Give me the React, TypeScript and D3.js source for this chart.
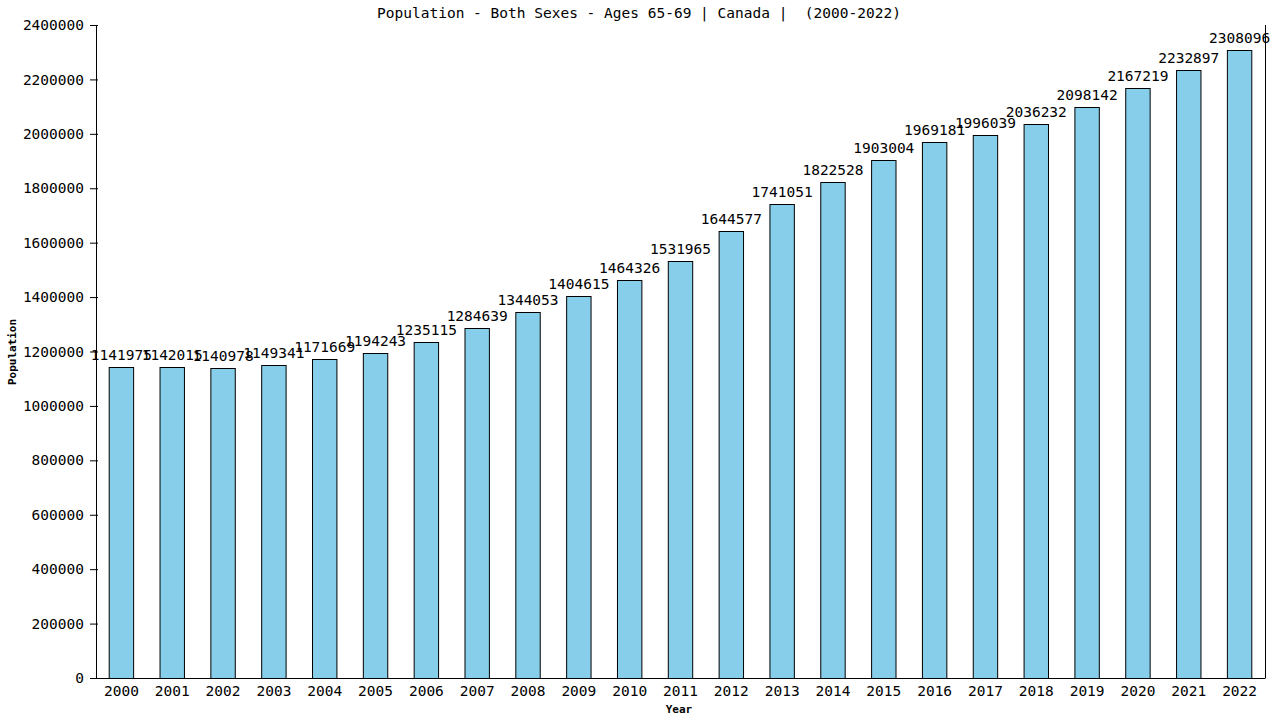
import * as d3 from 'd3';
import { useEffect, useRef } from 'react';

const years = [
  '2000', '2001', '2002', '2003', '2004', '2005', '2006', '2007', '2008', '2009', '2010', '2011',
  '2012', '2013', '2014', '2015', '2016', '2017', '2018', '2019', '2020', '2021', '2022',
];
const population = [
  1141975, 1142015, 1140978, 1149341, 1171669, 1194243, 1235115, 1284639, 1344053, 1404615,
  1464326, 1531965, 1644577, 1741051, 1822528, 1903004, 1969181, 1996039, 2036232, 2098142,
  2167219, 2232897, 2308096,
];
const yTicks = [0, 200000, 400000, 600000, 800000, 1000000, 1200000, 1400000, 1600000, 1800000, 2000000, 2200000, 2400000];

const WIDTH = 1280;
const HEIGHT = 720;
const FONT = '"DejaVu Sans Mono", monospace';

export default function App() {
  const svgRef = useRef<SVGSVGElement>(null);

  useEffect(() => {
    if (!svgRef.current) return;
    const svg = d3.select(svgRef.current);
    svg.selectAll('*').remove();

    const margin = { top: 25, right: 15, bottom: 42, left: 96 };
    const innerWidth = WIDTH - margin.left - margin.right;
    const innerHeight = HEIGHT - margin.top - margin.bottom;

    svg.append('rect').attr('width', WIDTH).attr('height', HEIGHT).attr('fill', '#fff');

    const g = svg.append('g').attr('transform', `translate(${margin.left},${margin.top})`);

    const x = d3.scaleBand().domain(years).range([0, innerWidth]).paddingInner(0.5).paddingOuter(0.25);
    const y = d3.scaleLinear().domain([0, 2400000]).range([innerHeight, 0]);

    const data = years.map((yr, i) => ({ year: yr, value: population[i] }));

    g.selectAll('.bar')
      .data(data)
      .join('rect')
      .attr('class', 'bar')
      .attr('x', d => (x(d.year) ?? 0) + 0.5)
      .attr('y', d => Math.round(y(d.value)) + 0.5)
      .attr('width', x.bandwidth() - 1)
      .attr('height', d => innerHeight - Math.round(y(d.value)))
      .attr('fill', '#87ceeb')
      .attr('stroke', '#000')
      .attr('stroke-width', 1);

    g.selectAll('.label')
      .data(data)
      .join('text')
      .attr('class', 'label')
      .attr('x', d => (x(d.year) ?? 0) + x.bandwidth() / 2)
      .attr('y', d => y(d.value) - 7)
      .attr('text-anchor', 'middle')
      .style('font-family', FONT)
      .style('font-size', '14.5px')
      .style('fill', '#000')
      .text(d => String(d.value));

    // x axis
    const xAxis = g.append('g')
      .attr('transform', `translate(0,${innerHeight})`)
      .call(d3.axisBottom(x).tickSize(0).tickPadding(8));
    xAxis.select('.domain').attr('stroke', '#000').attr('d', `M0.5,0.5H${innerWidth + 0.5}`);
    xAxis.selectAll('text').style('font-family', FONT).style('font-size', '14.5px').style('fill', '#000');

    // y axis
    const yAxis = g.append('g')
      .call(d3.axisLeft(y).tickValues(yTicks).tickSize(6).tickPadding(6).tickFormat(d3.format('d')));
    yAxis.select('.domain').attr('stroke', '#000').attr('d', `M0.5,0.5V${innerHeight + 0.5}`);
    yAxis.selectAll('line').attr('stroke', '#000').attr('x2', -6).attr('x1', 2);
    yAxis.selectAll('text').style('font-family', FONT).style('font-size', '14.5px').style('fill', '#000');

    // right border
    g.append('line')
      .attr('x1', innerWidth + 0.5).attr('x2', innerWidth + 0.5)
      .attr('y1', 0).attr('y2', innerHeight)
      .attr('stroke', '#000');

    svg.append('text')
      .attr('x', 639)
      .attr('y', 18)
      .attr('text-anchor', 'middle')
      .style('font-family', FONT)
      .style('font-size', '14.5px')
      .style('white-space', 'pre')
      .text('Population - Both Sexes - Ages 65-69 | Canada |  (2000-2022)');

    svg.append('text')
      .attr('x', 679)
      .attr('y', 713)
      .attr('text-anchor', 'middle')
      .style('font-family', FONT)
      .style('font-size', '11px')
      .style('font-weight', 'bold')
      .text('Year');

    svg.append('text')
      .attr('transform', `translate(16,352) rotate(-90)`)
      .attr('text-anchor', 'middle')
      .style('font-family', FONT)
      .style('font-size', '11px')
      .style('font-weight', 'bold')
      .text('Population');
  }, []);

  return (
    <div style={{ position: 'fixed', left: 0, top: 0, width: WIDTH, height: HEIGHT }}>
      <svg ref={svgRef} width={WIDTH} height={HEIGHT} />
    </div>
  );
}
